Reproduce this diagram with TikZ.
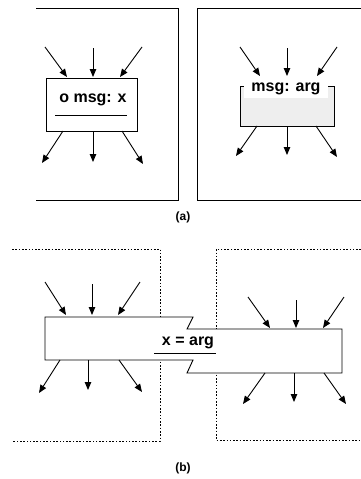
\documentclass[tikz,border=0pt]{standalone}
\usepackage{fontspec}
\setmainfont{Liberation Sans}
\usetikzlibrary{arrows.meta}
\definecolor{boxgray}{RGB}{238,238,238}
\tikzset{
  frame/.style={line width=0.9pt},
  dotframe/.style={line width=0.9pt, dash pattern=on 1.6pt off 1.7pt},
  arr/.style={line width=0.9pt, -{Triangle[length=8pt,width=6.5pt]}},
  msgbox/.style={draw, line width=0.9pt, inner sep=0pt},
  lbl/.style={font=\bfseries\fontsize{16}{18}\selectfont, inner sep=0pt},
  captext/.style={font=\bfseries\fontsize{12}{14}\selectfont, inner sep=0pt}
}

\begin{document}
\begin{tikzpicture}[x=1pt, y=-1pt]
\useasboundingbox (0,0) rectangle (361,479);

% (a) 两个框
\draw[frame] (36,8) -- (178,8) -- (178,200) -- (36,200);
\draw[frame] (361,8) -- (197,8) -- (197,200) -- (361,200);

% (a) 左: 对象
\node[msgbox, minimum width=91pt, minimum height=53pt] (boxA) at (91.5,104.5) {};
\node[lbl] (msgA) at (93,100) {o msg: x};
\draw[frame] (55,115) -- (127,115);

% (a) 右: 消息
\node[msgbox, fill=boxgray, minimum width=94pt, minimum height=40pt] (boxB) at (287,106) {};
\node[lbl, fill=white, inner xsep=7pt, minimum height=17pt] (msgB) at (286,89) {msg: arg};

\node[captext] (capA) at (183,217) {(a)};

% (b) 两个虚线框
\draw[dotframe] (12,249) -- (160,249) -- (160,441) -- (12,441);
\draw[dotframe] (361,249) -- (216,249) -- (216,440) -- (361,440);

% (b) 合并
\draw[frame, fill=white] (45,317) -- (193,317) -- (187,329) -- (342,329) -- (342,373)
  -- (187,373) -- (193,360) -- (45,360) -- cycle;
\node[lbl] (assign) at (188,343) {x = arg};
\draw[frame] (154,353) -- (216,353);

\node[captext] (capB) at (183,468) {(b)};

% ========== 箭头 ==========
% (a) 左
\coordinate (ai1) at (45,47);   \coordinate (ai1e) at (67,77);
\coordinate (ai2) at (93,48);   \coordinate (ai2e) at (93,77);
\coordinate (ai3) at (142,47);  \coordinate (ai3e) at (120,77);
\coordinate (ao1) at (63,131);  \coordinate (ao1e) at (42,163);
\coordinate (ao2) at (93,131);  \coordinate (ao2e) at (93,162);
\coordinate (ao3) at (122,131); \coordinate (ao3e) at (143,164);
\draw[arr] (ai1)--(ai1e);
\draw[arr] (ai2)--(ai2e);
\draw[arr] (ai3)--(ai3e);
\draw[arr] (ao1)--(ao1e);
\draw[arr] (ao2)--(ao2e);
\draw[arr] (ao3)--(ao3e);

% (a) 右
\coordinate (bi1) at (240,47);  \coordinate (bi1e) at (260,76);
\coordinate (bi2) at (287,48);  \coordinate (bi2e) at (287,76);
\coordinate (bi3) at (337,47);  \coordinate (bi3e) at (317,76);
\coordinate (bo1) at (257,126); \coordinate (bo1e) at (236,156);
\coordinate (bo2) at (287,126); \coordinate (bo2e) at (287,155);
\coordinate (bo3) at (316,126); \coordinate (bo3e) at (337,157);
\draw[arr] (bi1)--(bi1e);
\draw[arr] (bi2)--(bi2e);
\draw[arr] (bi3)--(bi3e);
\draw[arr] (bo1)--(bo1e);
\draw[arr] (bo2)--(bo2e);
\draw[arr] (bo3)--(bo3e);

% (b) 左
\coordinate (ci1) at (45,282);  \coordinate (ci1e) at (66,315);
\coordinate (ci2) at (92,284);  \coordinate (ci2e) at (92,315);
\coordinate (ci3) at (140,282); \coordinate (ci3e) at (118,315);
\coordinate (co1) at (60,360);  \coordinate (co1e) at (39,393);
\coordinate (co2) at (88,360);  \coordinate (co2e) at (88,390);
\coordinate (co3) at (119,360); \coordinate (co3e) at (142,392);
\draw[arr] (ci1)--(ci1e);
\draw[arr] (ci2)--(ci2e);
\draw[arr] (ci3)--(ci3e);
\draw[arr] (co1)--(co1e);
\draw[arr] (co2)--(co2e);
\draw[arr] (co3)--(co3e);

% (b) 右
\coordinate (di1) at (248,297); \coordinate (di1e) at (270,328);
\coordinate (di2) at (296,300); \coordinate (di2e) at (296,328);
\coordinate (di3) at (344,297); \coordinate (di3e) at (323,328);
\coordinate (do1) at (265,373); \coordinate (do1e) at (243,404);
\coordinate (do2) at (294,373); \coordinate (do2e) at (294,402);
\coordinate (do3) at (324,373); \coordinate (do3e) at (346,404);
\draw[arr] (di1)--(di1e);
\draw[arr] (di2)--(di2e);
\draw[arr] (di3)--(di3e);
\draw[arr] (do1)--(do1e);
\draw[arr] (do2)--(do2e);
\draw[arr] (do3)--(do3e);
\end{tikzpicture}
\end{document}
